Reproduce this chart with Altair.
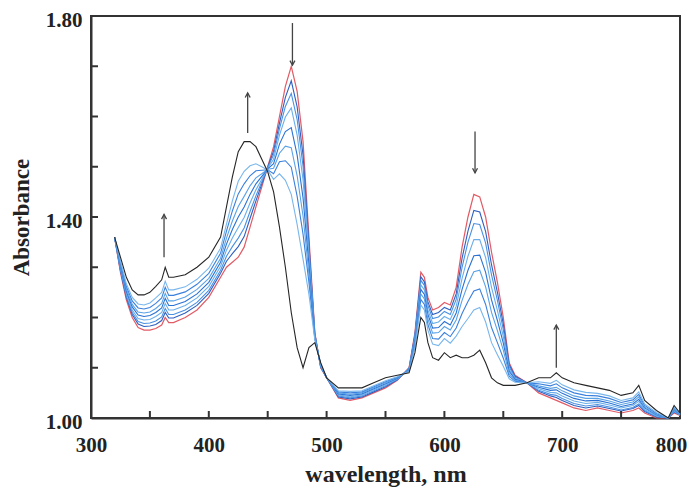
import altair as alt
import pandas as pd

wavelength = [320, 325, 330, 335, 340, 345, 350, 355, 360, 363,
              366, 370, 380, 390, 400, 410, 415, 420, 425, 430,
              435, 440, 445, 450, 455, 460, 465, 470, 475, 480,
              485, 490, 495, 500, 510, 520, 530, 540, 550, 560,
              570, 575, 580, 583, 586, 590, 595, 600, 605, 610,
              615, 620, 625, 630, 635, 640, 645, 650, 655, 660,
              670, 680, 690, 695, 700, 710, 720, 730, 740, 750,
              760, 765, 770, 780, 790, 795, 800]

red = [1.360, 1.290, 1.235, 1.200, 1.180, 1.175, 1.175, 1.178, 1.185, 1.200,
       1.190, 1.190, 1.200, 1.215, 1.240, 1.280, 1.300, 1.310, 1.320, 1.340,
       1.380, 1.420, 1.460, 1.500, 1.540, 1.600, 1.660, 1.700, 1.650, 1.550,
       1.360, 1.170, 1.100, 1.080, 1.040, 1.035, 1.040, 1.050, 1.060, 1.075,
       1.100, 1.170, 1.290, 1.280, 1.240, 1.215, 1.220, 1.230, 1.225, 1.260,
       1.340, 1.400, 1.445, 1.440, 1.400, 1.330, 1.270, 1.200, 1.110, 1.085,
       1.070, 1.050, 1.040, 1.035, 1.030, 1.020, 1.015, 1.020, 1.015, 1.010,
       1.015, 1.020, 1.010, 1.000, 1.000, 1.010, 1.005]

blue1 = [1.360, 1.293, 1.240, 1.206, 1.187, 1.182, 1.183, 1.186, 1.194, 1.210,
         1.199, 1.199, 1.209, 1.224, 1.248, 1.288, 1.312, 1.327, 1.341, 1.361,
         1.397, 1.432, 1.466, 1.499, 1.531, 1.587, 1.638, 1.671, 1.619, 1.523,
         1.347, 1.168, 1.101, 1.080, 1.042, 1.038, 1.042, 1.052, 1.062, 1.076,
         1.099, 1.166, 1.281, 1.271, 1.231, 1.206, 1.210, 1.220, 1.215, 1.247,
         1.318, 1.372, 1.413, 1.410, 1.371, 1.305, 1.250, 1.187, 1.106, 1.083,
         1.070, 1.053, 1.044, 1.041, 1.035, 1.025, 1.020, 1.024, 1.019, 1.014,
         1.019, 1.025, 1.013, 1.002, 1.000, 1.012, 1.006]

blue2 = [1.360, 1.295, 1.243, 1.210, 1.192, 1.188, 1.189, 1.193, 1.201, 1.218,
         1.206, 1.206, 1.215, 1.230, 1.254, 1.294, 1.322, 1.341, 1.358, 1.378,
         1.411, 1.442, 1.470, 1.498, 1.524, 1.576, 1.620, 1.646, 1.594, 1.501,
         1.336, 1.166, 1.102, 1.080, 1.044, 1.040, 1.044, 1.054, 1.064, 1.077,
         1.098, 1.163, 1.274, 1.264, 1.224, 1.198, 1.201, 1.212, 1.206, 1.236,
         1.300, 1.350, 1.387, 1.385, 1.348, 1.285, 1.234, 1.176, 1.102, 1.081,
         1.070, 1.055, 1.047, 1.045, 1.039, 1.029, 1.024, 1.027, 1.022, 1.016,
         1.021, 1.028, 1.015, 1.003, 1.000, 1.013, 1.006]

blue3 = [1.360, 1.298, 1.248, 1.215, 1.198, 1.195, 1.196, 1.202, 1.210, 1.228,
         1.215, 1.215, 1.224, 1.239, 1.262, 1.302, 1.334, 1.358, 1.379, 1.399,
         1.428, 1.454, 1.475, 1.497, 1.515, 1.563, 1.599, 1.617, 1.563, 1.474,
         1.323, 1.164, 1.103, 1.080, 1.046, 1.042, 1.046, 1.056, 1.066, 1.078,
         1.097, 1.159, 1.265, 1.255, 1.215, 1.188, 1.191, 1.202, 1.196, 1.222,
         1.278, 1.322, 1.355, 1.355, 1.319, 1.260, 1.214, 1.162, 1.097, 1.079,
         1.070, 1.058, 1.051, 1.050, 1.044, 1.034, 1.029, 1.031, 1.026, 1.020,
         1.025, 1.033, 1.017, 1.004, 1.000, 1.014, 1.006]

blue4 = [1.360, 1.301, 1.252, 1.221, 1.205, 1.202, 1.204, 1.210, 1.219, 1.238,
         1.224, 1.224, 1.232, 1.247, 1.270, 1.310, 1.346, 1.375, 1.400, 1.420,
         1.445, 1.466, 1.481, 1.496, 1.506, 1.545, 1.570, 1.578, 1.523, 1.438,
         1.305, 1.162, 1.104, 1.080, 1.048, 1.045, 1.048, 1.058, 1.068, 1.079,
         1.096, 1.155, 1.256, 1.246, 1.206, 1.179, 1.180, 1.192, 1.185, 1.209,
         1.256, 1.294, 1.323, 1.324, 1.290, 1.235, 1.194, 1.149, 1.093, 1.077,
         1.070, 1.061, 1.055, 1.056, 1.049, 1.039, 1.034, 1.035, 1.030, 1.023,
         1.028, 1.037, 1.020, 1.006, 1.000, 1.016, 1.007]

blue5 = [1.360, 1.304, 1.257, 1.226, 1.211, 1.209, 1.211, 1.218, 1.228, 1.248,
         1.233, 1.233, 1.241, 1.256, 1.278, 1.318, 1.358, 1.392, 1.421, 1.441,
         1.462, 1.478, 1.486, 1.495, 1.497, 1.527, 1.541, 1.538, 1.482, 1.402,
         1.287, 1.160, 1.105, 1.080, 1.050, 1.047, 1.050, 1.060, 1.070, 1.080,
         1.095, 1.151, 1.247, 1.237, 1.197, 1.169, 1.170, 1.182, 1.175, 1.195,
         1.234, 1.266, 1.291, 1.294, 1.261, 1.210, 1.174, 1.135, 1.088, 1.075,
         1.070, 1.064, 1.059, 1.061, 1.054, 1.044, 1.039, 1.039, 1.034, 1.027,
         1.032, 1.042, 1.022, 1.007, 1.000, 1.017, 1.007]

blue6 = [1.360, 1.308, 1.262, 1.233, 1.219, 1.217, 1.220, 1.228, 1.239, 1.260,
         1.244, 1.244, 1.251, 1.266, 1.288, 1.328, 1.372, 1.412, 1.446, 1.466,
         1.482, 1.492, 1.493, 1.494, 1.486, 1.510, 1.512, 1.499, 1.441, 1.366,
         1.270, 1.158, 1.106, 1.080, 1.052, 1.050, 1.052, 1.062, 1.072, 1.081,
         1.094, 1.146, 1.236, 1.226, 1.186, 1.158, 1.157, 1.170, 1.162, 1.179,
         1.208, 1.232, 1.253, 1.257, 1.226, 1.180, 1.150, 1.119, 1.083, 1.073,
         1.070, 1.068, 1.064, 1.068, 1.060, 1.050, 1.045, 1.044, 1.039, 1.031,
         1.036, 1.047, 1.025, 1.009, 1.000, 1.019, 1.008]

blue7 = [1.360, 1.312, 1.267, 1.240, 1.227, 1.225, 1.229, 1.239, 1.250, 1.272,
         1.255, 1.255, 1.261, 1.276, 1.298, 1.338, 1.386, 1.432, 1.471, 1.491,
         1.502, 1.506, 1.500, 1.493, 1.475, 1.486, 1.473, 1.445, 1.385, 1.316,
         1.246, 1.156, 1.107, 1.080, 1.054, 1.053, 1.054, 1.064, 1.074, 1.082,
         1.093, 1.141, 1.225, 1.215, 1.175, 1.147, 1.144, 1.158, 1.149, 1.163,
         1.182, 1.198, 1.215, 1.220, 1.191, 1.150, 1.126, 1.103, 1.078, 1.071,
         1.070, 1.072, 1.069, 1.075, 1.066, 1.056, 1.051, 1.049, 1.044, 1.035,
         1.040, 1.052, 1.028, 1.011, 1.000, 1.021, 1.009]

black = [1.360, 1.320, 1.280, 1.255, 1.245, 1.245, 1.250, 1.262, 1.275, 1.300,
         1.280, 1.280, 1.285, 1.300, 1.320, 1.360, 1.420, 1.480, 1.530, 1.550,
         1.550, 1.540, 1.515, 1.490, 1.450, 1.380, 1.300, 1.210, 1.140, 1.100,
         1.140, 1.150, 1.110, 1.080, 1.060, 1.060, 1.060, 1.070, 1.080, 1.085,
         1.090, 1.130, 1.200, 1.190, 1.150, 1.120, 1.115, 1.130, 1.120, 1.125,
         1.120, 1.120, 1.125, 1.135, 1.110, 1.080, 1.070, 1.065, 1.065, 1.065,
         1.070, 1.080, 1.080, 1.090, 1.080, 1.070, 1.065, 1.060, 1.055, 1.045,
         1.050, 1.065, 1.035, 1.015, 1.000, 1.025, 1.010]

blue_names = ["b1", "b2", "b3", "b4", "b5", "b6", "b7"]
blue_colors = ["#2f5fc0", "#4a90e2", "#6aaeea", "#2a72d4", "#5aa2e6", "#3b80dc", "#79b6ec"]

# arrows: wavelength, tail absorbance, head absorbance
arrow_wl = [362, 433, 471, 626, 695]
arrow_tail = [1.320, 1.567, 1.786, 1.570, 1.100]
arrow_head = [1.405, 1.647, 1.702, 1.488, 1.185]

x_labels = [300, 400, 500, 600, 700, 800]
y_labels = [1.0, 1.4, 1.8]
x_tick_minor = [350, 400, 450, 500, 550, 600, 650, 700, 750]
y_tick_minor = [1.1, 1.2, 1.3, 1.4, 1.5, 1.6, 1.7]

FONT = "Liberation Serif"
INK = "#222222"

def frame(vals, name):
    return pd.DataFrame({"wl": wavelength, "A": vals, "s": name})

df_red = frame(red, "red")
df_black = frame(black, "black")
df_blue = pd.concat([frame(v, n) for v, n in
                     zip([blue1, blue2, blue3, blue4, blue5, blue6, blue7], blue_names)])

xs = alt.Scale(domain=[300, 800], nice=False, zero=False)
ys = alt.Scale(domain=[1.0, 1.8], nice=False, zero=False)

x_axis = alt.Axis(values=x_labels, format="d", title="wavelength, nm",
                  ticks=False, grid=False, labelPadding=16, titlePadding=7, labelFlush=False,
                  labelOffset=alt.ExprRef("datum.value == 800 ? -9 : 0"),
                  labelFont=FONT, labelFontWeight="bold", labelFontSize=21, labelColor=INK,
                  titleFont=FONT, titleFontWeight="bold", titleFontSize=24, titleColor=INK,
                  domainColor="#333333", domainWidth=2)
y_axis = alt.Axis(values=y_labels, format=".2f", title="Absorbance",
                  ticks=False, grid=False, labelPadding=9, labelOffset=4, titlePadding=12,
                  labelFlush=False,
                  labelFont=FONT, labelFontWeight="bold", labelFontSize=21, labelColor=INK,
                  titleFont=FONT, titleFontWeight="bold", titleFontSize=23, titleColor=INK,
                  domainColor="#333333", domainWidth=2)

X = alt.X("wl:Q", scale=xs, axis=x_axis, title="wavelength, nm")

def Y(field):
    return alt.Y(field, scale=ys, axis=y_axis, title="Absorbance")

red_layer = alt.Chart(df_red).mark_line(color="#e25a64", strokeWidth=1.2).encode(
    x=X, y=Y("A:Q"),
)

blue_layer = alt.Chart(df_blue).mark_line(strokeWidth=1.1).encode(
    x=X, y=Y("A:Q"),
    color=alt.Color("s:N", scale=alt.Scale(domain=blue_names, range=blue_colors), legend=None),
    detail="s:N",
)

black_layer = alt.Chart(df_black).mark_line(color="#262626", strokeWidth=1.1).encode(
    x=X, y=Y("A:Q"),
)

xt = alt.Chart(pd.DataFrame({"wl": x_tick_minor})).mark_rule(color="#333333", strokeWidth=2).encode(
    x=X, y=alt.value(402), y2=alt.value(395),
)
yt = alt.Chart(pd.DataFrame({"A": y_tick_minor})).mark_rule(color="#333333", strokeWidth=2).encode(
    y=Y("A:Q"), x=alt.value(0), x2=alt.value(7),
)

arrows = pd.DataFrame({"wl": arrow_wl, "tail": arrow_tail, "head": arrow_head})
arrows["up"] = arrows["head"] > arrows["tail"]

shafts = alt.Chart(arrows).mark_rule(color="#444444", strokeWidth=1.3).encode(
    x=X, y=Y("tail:Q"), y2="head:Q",
)
heads_up = alt.Chart(arrows[arrows["up"]]).mark_point(
    shape="M-0.7,1.3L0,0L0.7,1.3", filled=False, size=50, color="#444444", strokeWidth=1.3, opacity=1
).encode(x=X, y=Y("head:Q"))
heads_down = alt.Chart(arrows[~arrows["up"]]).mark_point(
    shape="M-0.7,-1.3L0,0L0.7,-1.3", filled=False, size=50, color="#444444", strokeWidth=1.3, opacity=1
).encode(x=X, y=Y("head:Q"))

chart = alt.layer(red_layer, blue_layer, black_layer, xt, yt, shafts, heads_up, heads_down).properties(
    width=589, height=402,
    autosize=alt.AutoSizeParams(type="none"),
    padding={"left": 83, "top": 8, "right": 8, "bottom": 72},
    background="white",
).configure_view(stroke="#333333", strokeWidth=2)

chart.save("out.html", embed_options={"renderer": "svg", "actions": False})
